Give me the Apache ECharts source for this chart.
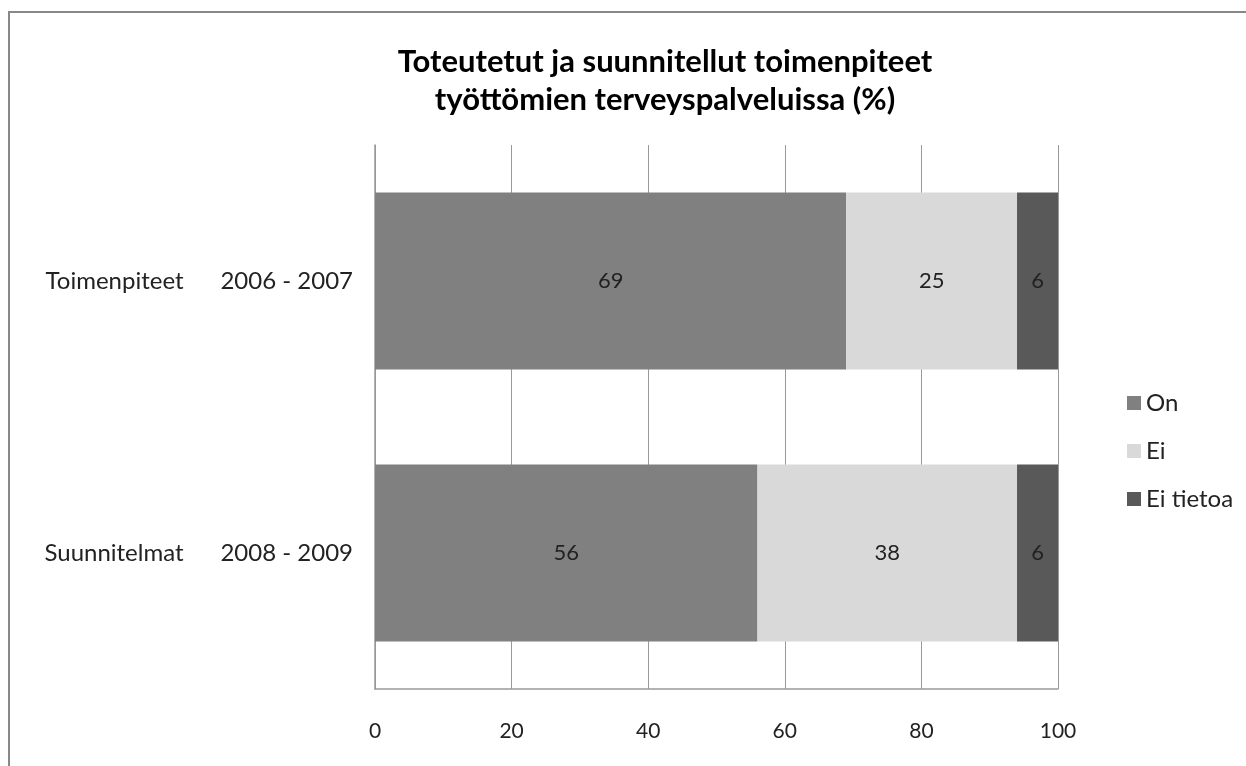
<!DOCTYPE html>
<html>
<head>
<meta charset="utf-8">
<style>
  html, body { margin: 0; padding: 0; background: #fff; }
  #main { width: 1246px; height: 766px; }
</style>
<script src="https://cdn.jsdelivr.net/npm/echarts@6/dist/echarts.min.js"></script>
</head>
<body>
<div id="main"></div>
<script>
// categories, bottom to top (category axis on y runs upward)
const categories = ["Suunnitelmat      2008 - 2009", "Toimenpiteet      2006 - 2007"];
const seriesNames = ["On", "Ei", "Ei tietoa"];
const onValues = [56, 69];
const eiValues = [38, 25];
const eiTietoaValues = [6, 6];
const xTicks = [0, 20, 40, 60, 80, 100];

const colors = ["#808080", "#d9d9d9", "#595959"];
const font = "Lato, 'Open Sans', sans-serif";

const chart = echarts.init(document.getElementById("main"));

function barSeries(name, data) {
  return {
    name: name,
    type: "bar",
    stack: "total",
    barCategoryGap: "35%",
    label: {
      show: true,
      position: "inside",
      color: "#222",
      fontFamily: font,
      fontSize: 22
    },
    data: data
  };
}

const option = {
  animation: false,
  color: colors,
  textStyle: { fontFamily: font },
  title: {
    text: "Toteutetut ja suunnitellut toimenpiteet\ntyöttömien terveyspalveluissa (%)",
    left: 660,
    top: 38,
    textAlign: "center",
    textStyle: {
      fontFamily: font,
      fontSize: 31,
      fontWeight: "bold",
      color: "#000",
      lineHeight: 38
    }
  },
  legend: {
    orient: "vertical",
    left: 1122,
    top: 386,
    itemWidth: 14,
    itemHeight: 14,
    itemGap: 24,
    itemTextGap: 7,
    icon: "rect",
    textStyle: { fontFamily: font, fontSize: 24, color: "#222" },
    data: seriesNames
  },
  grid: {
    left: 375,
    right: 188,
    top: 145,
    bottom: 77,
    containLabel: false
  },
  xAxis: {
    type: "value",
    min: 0,
    max: 100,
    interval: 20,
    axisLine: { show: true, lineStyle: { color: "#999", width: 1.5 } },
    axisTick: { show: false },
    splitLine: { show: true, lineStyle: { color: "#999", width: 1 } },
    axisLabel: {
      margin: 32,
      color: "#222",
      fontFamily: font,
      fontSize: 21,
      formatter: v => (xTicks.indexOf(v) >= 0 ? String(v) : "")
    }
  },
  yAxis: {
    type: "category",
    data: categories,
    axisLine: { show: true, lineStyle: { color: "#999", width: 1.5 } },
    axisTick: { show: false },
    axisLabel: {
      margin: 22,
      color: "#222",
      fontFamily: font,
      fontSize: 24
    }
  },
  graphic: [
    {
      type: "rect",
      shape: { x: 9, y: 12, width: 1300, height: 800 },
      style: { fill: null, stroke: "#888", lineWidth: 2 },
      silent: true
    }
  ],
  series: [
    barSeries(seriesNames[0], onValues),
    barSeries(seriesNames[1], eiValues),
    barSeries(seriesNames[2], eiTietoaValues)
  ]
};

chart.setOption(option);
</script>
</body>
</html>
